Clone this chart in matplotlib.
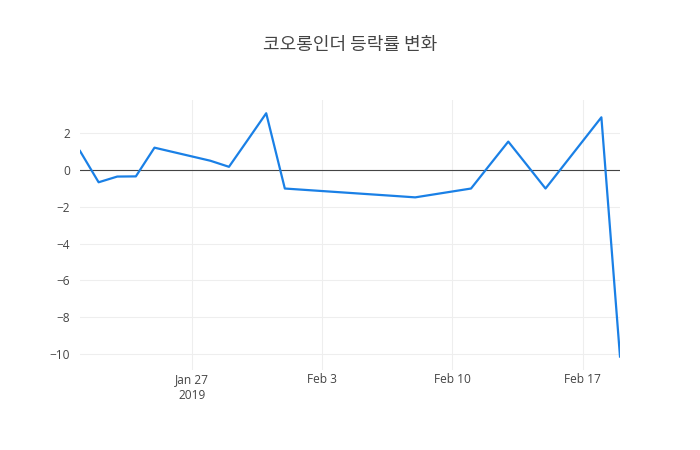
import pandas as pd
import matplotlib
matplotlib.use('Agg')
import matplotlib.pyplot as plt

# 코오롱인더 일별 등락률 (%)
dates = ['2019-01-21', '2019-01-22', '2019-01-23', '2019-01-24', '2019-01-25',
         '2019-01-28', '2019-01-29', '2019-01-30', '2019-01-31', '2019-02-01',
         '2019-02-07', '2019-02-08', '2019-02-11', '2019-02-12', '2019-02-13',
         '2019-02-14', '2019-02-15', '2019-02-18', '2019-02-19']
changes = [1.03, -0.67, -0.36, -0.35, 1.21,
           0.50, 0.17, 1.62, 3.08, -1.01,
           -1.42, -1.49, -1.01, 0.27, 1.54,
           0.27, -1.01, 2.86, -10.14]

tick_dates = ['2019-01-27', '2019-02-03', '2019-02-10', '2019-02-17']
tick_labels = ['Jan 27\n2019', 'Feb 3', 'Feb 10', 'Feb 17']
y_ticks = [-10, -8, -6, -4, -2, 0, 2]

plt.rcParams['font.family'] = ['Open Sans', 'Noto Sans CJK KR', 'DejaVu Sans']

x = pd.to_datetime(dates)

fig = plt.figure(figsize=(7, 4.5), dpi=100)
ax = fig.add_axes([80 / 700, 80 / 450, 540 / 700, 270 / 450])

ax.plot(x, changes, color='#1a80e6', linewidth=1.6, zorder=3)
ax.axhline(0, color='#444444', linewidth=0.8, zorder=2)

ax.set_xlim(pd.Timestamp('2019-01-21'), pd.Timestamp('2019-02-19'))
ax.set_ylim(-10.87, 3.8)

ax.set_xticks(pd.to_datetime(tick_dates))
ax.set_xticklabels(tick_labels, linespacing=1.3)
ax.set_yticks(y_ticks)
ax.set_yticklabels([f'{v}'.replace('-', '\u2212') for v in y_ticks])

ax.grid(True, color='#eeeeee', linewidth=0.8, zorder=0)
ax.tick_params(length=0, labelsize=8.6, labelcolor='#444444')
ax.tick_params(axis='x', pad=2)
ax.tick_params(axis='y', pad=7)
for s in ax.spines.values():
    s.set_visible(False)

fig.text(0.5, 1 - 45 / 450, '코오롱인더 등락률 변화', ha='center', va='center',
         fontsize=13, fontweight='medium', color='#444444',
         family=['Noto Sans CJK KR', 'DejaVu Sans'])

fig.savefig('out.png', dpi=100, facecolor='white')
